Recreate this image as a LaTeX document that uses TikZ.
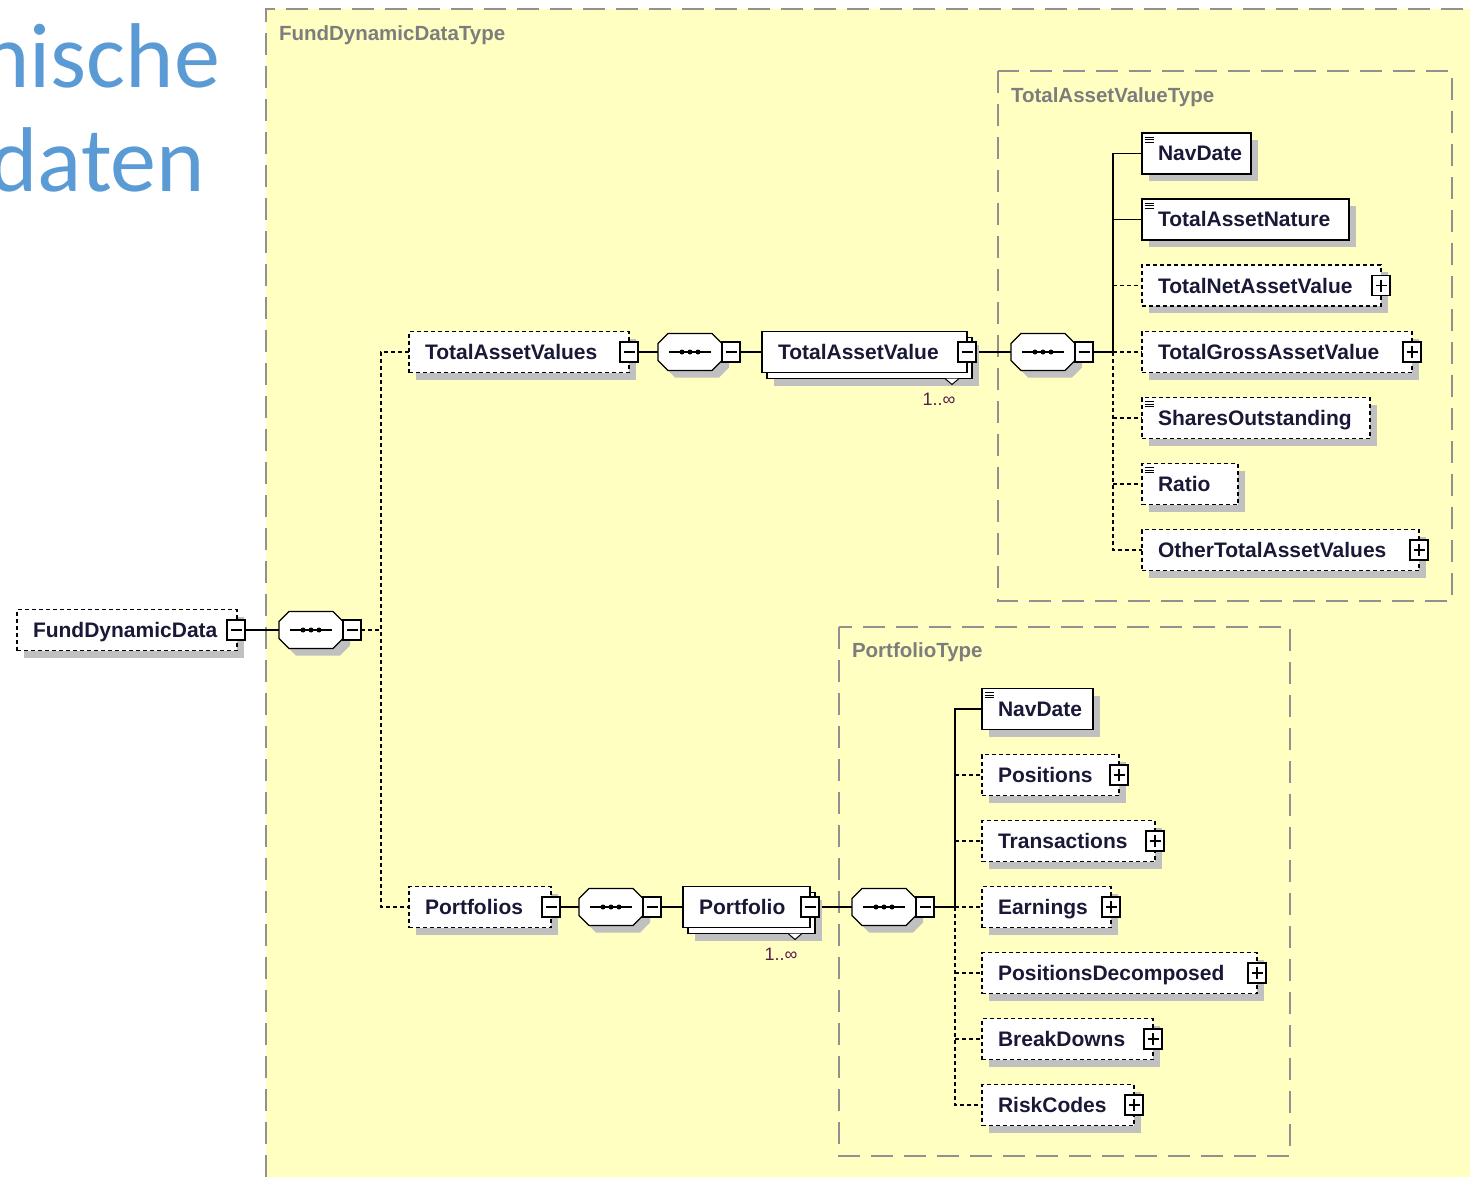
\documentclass[tikz,border=0pt]{standalone}
\usepackage{fontspec}
\setmainfont{Liberation Sans}
\newfontfamily\titlefont{Carlito}
\usetikzlibrary{shadows}
\definecolor{typebg}{RGB}{255,255,194}
\definecolor{typeline}{RGB}{145,145,145}
\definecolor{typetext}{RGB}{125,125,125}
\definecolor{shadowgray}{RGB}{192,192,192}
\definecolor{elemtext}{RGB}{25,25,55}
\definecolor{titleblue}{RGB}{91,155,213}
\definecolor{multcol}{RGB}{85,30,75}
\pgfdeclarelayer{bg}
\pgfdeclarelayer{conn}
\pgfsetlayers{bg,conn,main}
\newcommand\eltext[2]{\makebox[#1][l]{\rule{0pt}{15pt}\smash{#2}}}
\newcommand\simpleicon[1]{\draw[line width=0.9pt,black] ([xshift=2.5pt,yshift=-4pt]#1.north west) -- ++(9,0) ([xshift=2.5pt,yshift=-6.7pt]#1.north west) -- ++(9,0) ([xshift=2.5pt,yshift=-9.4pt]#1.north west) -- ++(9,0);}
\newcommand\octagonpath{(-22,-18.5) -- (22,-18.5) -- (32,-8.5) -- (32,8.5) -- (22,18.5) -- (-22,18.5) -- (-32,8.5) -- (-32,-8.5) -- cycle}
\newcommand\seqsym[3]{%
  \node[seqbox] (#1) at (#2,#3) {};
  \begin{scope}[shift={(#2,#3)}]
    \fill[shadowgray, shift={(7,7)}] \octagonpath;
    \draw[line width=1.3pt, fill=white] \octagonpath;
    \draw[line width=1.3pt] (-21,0) -- (21,0);
    \foreach \dx in {-8,0,8} {\fill (\dx,0) circle (2.5pt);}
  \end{scope}
  \node[minusbox, anchor=west] (#1pm) at (#1.east) {};
}
\begin{document}
\begin{tikzpicture}[x=1pt,y=-1pt,
  every node/.style={inner sep=0pt, outer sep=0pt},
  shad/.style={drop shadow={shadow xshift=7pt, shadow yshift=-7pt, fill=shadowgray, opacity=1}},
  elbase/.style={anchor=west, fill=white, draw=black, line width=1.3pt, minimum height=41pt, inner xsep=16pt, text=elemtext, font=\bfseries\fontsize{21}{24}\selectfont},
  reqel/.style={elbase, shad},
  optel/.style={elbase, shad, dash pattern=on 4pt off 3pt},
  frontel/.style={elbase},
  pmbox/.style={draw=black, fill=white, line width=1.2pt, minimum width=18pt, minimum height=20pt},
  minusbox/.style={pmbox, path picture={\draw[line width=1.2pt] ([xshift=3.5pt]path picture bounding box.west) -- ([xshift=-3.5pt]path picture bounding box.east);}},
  plusbox/.style={pmbox, path picture={\draw[line width=1.2pt] ([xshift=3.5pt]path picture bounding box.west) -- ([xshift=-3.5pt]path picture bounding box.east) ([yshift=-4pt]path picture bounding box.north) -- ([yshift=4pt]path picture bounding box.south);}},
  seqbox/.style={rectangle, minimum width=64pt, minimum height=37pt},
  typebox/.style={draw=typeline, line width=1.6pt, dash pattern=on 22pt off 11pt},
  typelabel/.style={anchor=west, text=typetext, font=\bfseries\fontsize{20.5}{23}\selectfont},
  multlbl/.style={text=multcol, font=\fontsize{18}{20}\selectfont},
  conn/.style={draw=black, line width=1.3pt},
  dconn/.style={conn, dash pattern=on 4pt off 3pt},
  tri/.style={draw=black, fill=white, line width=1pt}
]
\useasboundingbox (0,0) rectangle (1470,1177);

% ---------- background: title and type frames ----------
\begin{pgfonlayer}{bg}
  \node[anchor=base east, text=titleblue, font=\titlefont\fontsize{92}{92}\selectfont] (title1) at (220,88) {nische};
  \node[anchor=base east, text=titleblue, font=\titlefont\fontsize{92}{92}\selectfont] (title2) at (205,192) {daten};
  \fill[typebg] (266,9) rectangle (1470,1177);
  \draw[typebox] (266,1177) -- (266,9) -- (1470,9);
  \draw[typebox] (998,71) rectangle (1452,601);
  \draw[typebox] (839,627) rectangle (1290,1156);
  \node[typelabel] (t1) at (279,35) {FundDynamicDataType};
  \node[typelabel] (t2) at (1011,97) {TotalAssetValueType};
  \node[typelabel] (t3) at (852,652) {PortfolioType};
\end{pgfonlayer}

% ---------- root ----------
\node[optel] (fdd) at (17,630) {\eltext{188pt}{FundDynamicData}};
\node[minusbox] (fddpm) at ([xshift=-1pt]fdd.east) {};
\seqsym{seq1}{311}{630}

% ---------- total asset values branch ----------
\node[optel] (tav) at (409,352) {\eltext{188pt}{TotalAssetValues}};
\node[minusbox] (tavpm) at (tav.east) {};
\seqsym{seq2}{690}{352}
\node[reqel, minimum width=205pt] (tavsbk) at (767,358) {};
\node[frontel] (tavs) at (762,352) {\eltext{173pt}{TotalAssetValue}};
\node[minusbox] (tavspm) at (tavs.east) {};
\coordinate (tri1) at ([xshift=-20pt]tavsbk.south east);
\draw[tri] ([xshift=-7pt]tri1) -- ([yshift=-6pt]tri1) -- ([xshift=7pt]tri1);
\node[multlbl] (m1) at (939,399) {1..∞};
\seqsym{seq3}{1043}{352}

\node[reqel] (nav1) at (1142,153.5) {\eltext{77pt}{NavDate}};
\simpleicon{nav1}
\node[reqel] (nat) at (1142,219.5) {\eltext{175pt}{TotalAssetNature}};
\simpleicon{nat}
\node[optel] (tnav) at (1142,285.5) {\eltext{207pt}{TotalNetAssetValue}};
\node[plusbox] (tnavpm) at (tnav.east) {};
\node[optel] (tgav) at (1142,352) {\eltext{238pt}{TotalGrossAssetValue}};
\node[plusbox] (tgavpm) at (tgav.east) {};
\node[optel] (so) at (1142,418) {\eltext{196pt}{SharesOutstanding}};
\simpleicon{so}
\node[optel] (ratio) at (1142,484) {\eltext{64pt}{Ratio}};
\simpleicon{ratio}
\node[optel] (otav) at (1142,550) {\eltext{245pt}{OtherTotalAssetValues}};
\node[plusbox] (otavpm) at (otav.east) {};

% ---------- portfolios branch ----------
\node[optel] (pfs) at (409,907) {\eltext{110pt}{Portfolios}};
\node[minusbox] (pfspm) at (pfs.east) {};
\seqsym{seq4}{611}{907}
\node[reqel, minimum width=127pt] (pfbk) at (688,913) {};
\node[frontel] (pf) at (683,907) {\eltext{95pt}{Portfolio}};
\node[minusbox] (pfpm) at (pf.east) {};
\coordinate (tri2) at ([xshift=-20pt]pfbk.south east);
\draw[tri] ([xshift=-7pt]tri2) -- ([yshift=-6pt]tri2) -- ([xshift=7pt]tri2);
\node[multlbl] (m2) at (781,954) {1..∞};
\seqsym{seq5}{884}{907}

\node[reqel] (nav2) at (982,709) {\eltext{79pt}{NavDate}};
\simpleicon{nav2}
\node[optel] (pos) at (982,775) {\eltext{105pt}{Positions}};
\node[plusbox] (pospm) at (pos.east) {};
\node[optel] (trans) at (982,841) {\eltext{141pt}{Transactions}};
\node[plusbox] (transpm) at (trans.east) {};
\node[optel] (earn) at (982,907) {\eltext{97pt}{Earnings}};
\node[plusbox] (earnpm) at (earn.east) {};
\node[optel] (pdec) at (982,973) {\eltext{243pt}{PositionsDecomposed}};
\node[plusbox] (pdecpm) at (pdec.east) {};
\node[optel] (bd) at (982,1039) {\eltext{139pt}{BreakDowns}};
\node[plusbox] (bdpm) at (bd.east) {};
\node[optel] (rc) at (982,1105) {\eltext{120pt}{RiskCodes}};
\node[plusbox] (rcpm) at (rc.east) {};

% ---------- connectors ----------
\begin{pgfonlayer}{conn}
  \draw[conn] (fddpm.east) -- (seq1.west);
  \coordinate (j1) at (381,630);
  \draw[dconn] (seq1pm.east) -- (j1);
  \draw[dconn] (tav.west) -| (j1) |- (pfs.west);

  \draw[conn] (tavpm.east) -- (seq2.west);
  \draw[conn] (seq2pm.east) -- (tavs.west);
  \draw[conn] (tavspm.east) -- (seq3.west);
  \coordinate (j2) at (1113,352);
  \draw[conn] (seq3pm.east) -- (j2);
  \draw[conn] (j2) |- (nav1.west);
  \draw[conn] (nat.west -| j2) -- (nat.west);
  \draw[dconn] (j2) |- (otav.west);
  \foreach \n in {tnav,tgav,so,ratio} {\draw[dconn] (\n.west -| j2) -- (\n.west);}

  \draw[conn] (pfspm.east) -- (seq4.west);
  \draw[conn] (seq4pm.east) -- (pf.west);
  \draw[conn] (pfpm.east) -- (seq5.west);
  \coordinate (j3) at (955,907);
  \draw[conn] (seq5pm.east) -- (j3);
  \draw[conn] (j3) |- (nav2.west);
  \draw[dconn] (j3) |- (rc.west);
  \foreach \n in {pos,trans,earn,pdec,bd} {\draw[dconn] (\n.west -| j3) -- (\n.west);}
\end{pgfonlayer}
\end{tikzpicture}
\end{document}
